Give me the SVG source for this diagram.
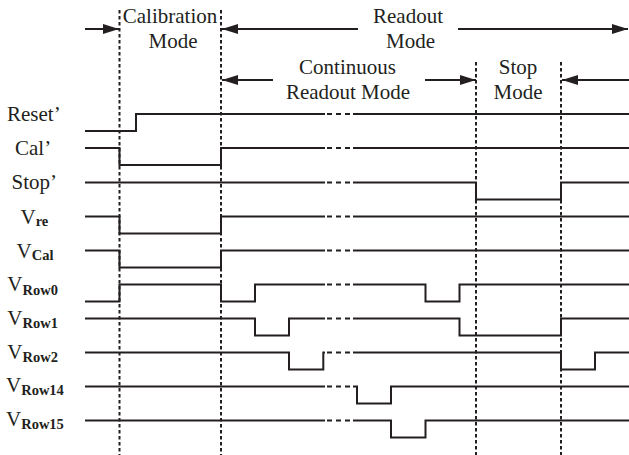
<svg xmlns="http://www.w3.org/2000/svg" width="629" height="455" viewBox="0 0 629 455">
<style>
.bg{fill:#ffffff}
.sig{fill:none;stroke:#231f20;stroke-width:2;stroke-linejoin:miter;stroke-linecap:butt}
.brk{fill:none;stroke:#231f20;stroke-width:2;stroke-dasharray:5 4}
.guide{fill:none;stroke:#231f20;stroke-width:2;stroke-dasharray:3.5 2.5}
.arr{fill:none;stroke:#231f20;stroke-width:2}
.t{font-family:"Liberation Serif","Times New Roman",serif;font-size:21px;fill:#231f20}
.c{text-anchor:middle}
.sub{font-family:"Liberation Serif","Times New Roman",serif;font-size:14.5px;font-weight:bold;fill:#231f20}
</style>
<defs>
<marker id="ah" markerUnits="userSpaceOnUse" markerWidth="17" markerHeight="10" refX="16" refY="5" orient="auto">
<path d="M0,0 L16,5 L0,10 z" fill="#231f20"/>
</marker>
</defs>
<rect class="bg" x="0" y="0" width="629" height="455"/>

<g id="guides">
<line class="guide" x1="119.5" y1="10" x2="119.5" y2="455"/>
<line class="guide" x1="221" y1="10" x2="221" y2="455"/>
<line class="guide" x1="476" y1="62" x2="476" y2="455"/>
<line class="guide" x1="561" y1="62" x2="561" y2="455"/>
</g>

<g id="mode-labels">
<text class="t c" x="170" y="23">Calibration</text>
<text class="t c" x="173" y="48">Mode</text>
<text class="t c" x="408" y="23">Readout</text>
<text class="t c" x="410.5" y="48">Mode</text>
<text class="t c" x="347.5" y="74">Continuous</text>
<text class="t c" x="348" y="99">Readout Mode</text>
<text class="t c" x="518" y="74">Stop</text>
<text class="t c" x="518" y="99">Mode</text>
</g>

<g id="connectors">
<line class="arr" x1="85" y1="29" x2="119" y2="29" marker-end="url(#ah)"/>
<line class="arr" x1="358" y1="29" x2="222" y2="29" marker-end="url(#ah)"/>
<line class="arr" x1="458" y1="29" x2="628" y2="29" marker-end="url(#ah)"/>
<line class="arr" x1="273" y1="80" x2="222" y2="80" marker-end="url(#ah)"/>
<line class="arr" x1="425" y1="80" x2="476" y2="80" marker-end="url(#ah)"/>
<line class="arr" x1="629" y1="80" x2="562" y2="80" marker-end="url(#ah)"/>
</g>

<g id="sig-reset">
<text class="t" x="7" y="120.5">Reset’</text>
<path class="sig" d="M85,131 H136 V114 H325 M353,114 H629"/>
<line class="brk" x1="327" y1="114" x2="352" y2="114"/>
</g>

<g id="sig-cal">
<text class="t" x="15" y="155">Cal’</text>
<path class="sig" d="M85,148 H119.5 V165 H221 V148 H325 M353,148 H629"/>
<line class="brk" x1="327" y1="148" x2="352" y2="148"/>
</g>

<g id="sig-stop">
<text class="t" x="11.5" y="188.5">Stop’</text>
<path class="sig" d="M85,182.5 H325 M353,182.5 H476 V199.5 H561 V182.5 H629"/>
<line class="brk" x1="327" y1="182.5" x2="352" y2="182.5"/>
</g>

<g id="sig-vre">
<text class="t" x="20.5" y="223.5">V<tspan class="sub" y="225.7">re</tspan></text>
<path class="sig" d="M85,216.5 H119.5 V233.5 H221 V216.5 H325 M353,216.5 H629"/>
<line class="brk" x1="327" y1="216.5" x2="352" y2="216.5"/>
</g>

<g id="sig-vcal">
<text class="t" x="16.5" y="258.3">V<tspan class="sub" y="260.3">Cal</tspan></text>
<path class="sig" d="M85,250.5 H119.5 V267.5 H221 V250.5 H325 M353,250.5 H629"/>
<line class="brk" x1="327" y1="250.5" x2="352" y2="250.5"/>
</g>

<g id="sig-vrow0">
<text class="t" x="7.3" y="290.7">V<tspan class="sub" y="295">Row0</tspan></text>
<path class="sig" d="M85,301.5 H119.5 V284.5 H221 V301.5 H255 V284.5 H325 M353,284.5 H425.5 V301.5 H459.5 V284.5 H629"/>
<line class="brk" x1="327" y1="284.5" x2="352" y2="284.5"/>
</g>

<g id="sig-vrow1">
<text class="t" x="7.3" y="325">V<tspan class="sub" y="327.5">Row1</tspan></text>
<path class="sig" d="M85,318.5 H255 V335.5 H289 V318.5 H325 M353,318.5 H459.5 V335.5 H561 V318.5 H629"/>
<line class="brk" x1="327" y1="318.5" x2="352" y2="318.5"/>
</g>

<g id="sig-vrow2">
<text class="t" x="7.3" y="358.5">V<tspan class="sub" y="361.5">Row2</tspan></text>
<path class="sig" d="M85,352.5 H289 V369.5 H323.3 V352.5 H325 M353,352.5 H561 V369.5 H595 V352.5 H629"/>
<line class="brk" x1="327" y1="352.5" x2="352" y2="352.5"/>
</g>

<g id="sig-vrow14">
<text class="t" x="6" y="391.7">V<tspan class="sub" y="395">Row14</tspan></text>
<path class="sig" d="M85,386.5 H325 M353,386.5 H357 V403.5 H391 V386.5 H629"/>
<line class="brk" x1="327" y1="386.5" x2="352" y2="386.5"/>
</g>

<g id="sig-vrow15">
<text class="t" x="6" y="425.5">V<tspan class="sub" y="429">Row15</tspan></text>
<path class="sig" d="M85,420.5 H325 M353,420.5 H391 V437.5 H425.5 V420.5 H629"/>
<line class="brk" x1="327" y1="420.5" x2="352" y2="420.5"/>
</g>
</svg>
